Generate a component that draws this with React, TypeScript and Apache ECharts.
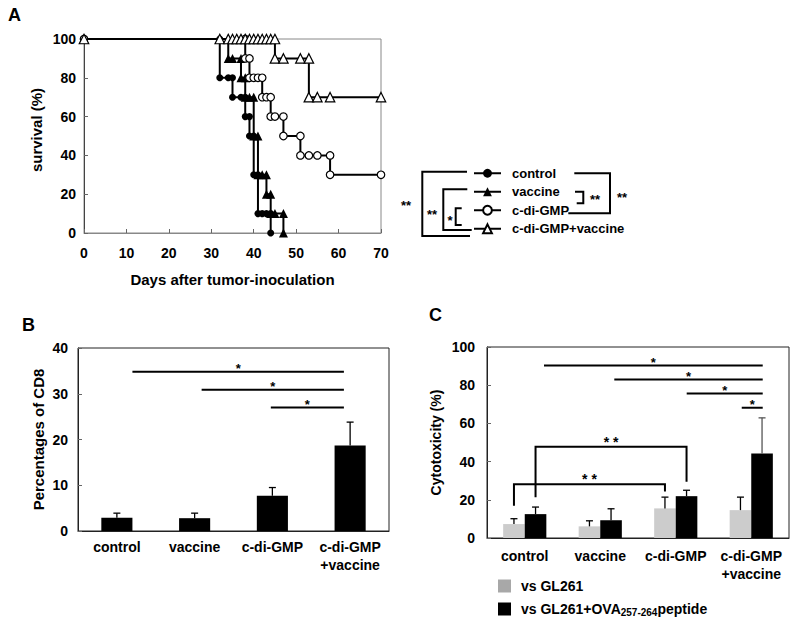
import { useEffect, useRef } from "react";
import * as echarts from "echarts";

const FONT = "'Liberation Sans', Arial, Helvetica, sans-serif";

// ---------- Panel A : survival ----------
const groups = ["control", "vaccine", "c-di-GMP", "c-di-GMP+vaccine"];
const controlSurvival = [[0,100],[32,100],[32,80],[34,80],[35,80],[35,70],[37,70],[38,70],[38,60],[39,60],[39,50],[40,50],[40,30],[41,30],[41,10],[42,10],[43,10],[44,10],[44,0]];
const vaccineSurvival = [[0,100],[34,100],[34,90],[35,90],[37,90],[37,80],[38,80],[38,70],[39,70],[40,70],[40,50],[41,50],[41,30],[42,30],[43,30],[43,20],[44,20],[44,10],[45,10],[47,10],[47,0]];
const cdgSurvival = [[0,100],[38,100],[38,90],[39,90],[39,80],[40,80],[41,80],[42,80],[42,70],[43,70],[44,70],[44,60],[45,60],[47,60],[47,50],[51,50],[51,40],[53,40],[55,40],[58,40],[58,30],[70,30]];
const cdgVacSurvival = [[0,100],[32,100],[34,100],[35,100],[36,100],[37,100],[38,100],[39,100],[40,100],[41,100],[42,100],[43,100],[44,100],[45,100],[45,90],[47,90],[51,90],[53,90],[53,70],[55,70],[58,70],[70,70]];

// ---------- Panel B : % CD8 ----------
const barCategories = ["control", "vaccine", "c-di-GMP", "c-di-GMP\n+vaccine"];
const cd8Mean = [2.9, 2.8, 7.7, 18.7];
const cd8Err = [1.0, 1.1, 1.8, 5.1];
const cd8SigFrom = [0.2, 1.09, 1.98];
const cd8SigTo = [2.92, 2.92, 2.92];
const cd8SigY = [34.8, 30.9, 27.0];
const cd8SigText = ["*", "*", "*"];

// ---------- Panel C : cytotoxicity ----------
const gl261Name = "vs GL261";
const ovaName = "vs GL261+OVA257-264peptide";
const gl261Mean = [7.3, 6.1, 15.5, 14.6];
const gl261Err = [2.8, 2.9, 5.9, 6.8];
const ovaMean = [12.5, 9.3, 21.9, 44.3];
const ovaErr = [3.7, 6.0, 3.1, 18.6];
const ctxSigFrom = [0.255, 1.186, 2.145, 2.874];
const ctxSigTo = [3.152, 3.152, 3.152, 3.152];
const ctxSigY = [90.3, 83.0, 75.7, 68.2];
const ctxSigText = ["*", "*", "*", "*"];
const BAR_FRAC = 0.286;
const HALF = BAR_FRAC / 2;
const ctxBracketFrom = [HALF, -HALF];
const ctxBracketTo = [2 + HALF, 2 - HALF];
const ctxBracketTop = [47.8, 28.2];
const ctxBracketLeftEnd = [21.4, 16.9];
const ctxBracketRightEnd = [29.5, 24.3];
const ctxBracketText = ["* *", "* *"];

const bold = (size: number) => ({ fontSize: size, fontWeight: "bold" as const, fontFamily: FONT, color: "#000" });

function errRender(color: string) {
  return (params: any, api: any) => {
    const x = api.value(0), y = api.value(1), e = api.value(2);
    const c = api.value(3) === 1 ? "#000" : color;
    const p0 = api.coord([x, y]);
    const p1 = api.coord([x, y + e]);
    return {
      type: "group",
      children: [
        { type: "line", shape: { x1: p0[0], y1: p0[1], x2: p1[0], y2: p1[1] }, style: { stroke: c, lineWidth: 1.3 } },
        { type: "line", shape: { x1: p1[0] - 3.5, y1: p1[1], x2: p1[0] + 3.5, y2: p1[1] }, style: { stroke: c, lineWidth: 1.3 } },
      ],
    };
  };
}

function sigRender(labels: string[]) {
  return (params: any, api: any) => {
    const a = api.coord([api.value(0), api.value(2)]);
    const b = api.coord([api.value(1), api.value(2)]);
    return {
      type: "group",
      children: [
        { type: "line", shape: { x1: a[0], y1: a[1], x2: b[0], y2: b[1] }, style: { stroke: "#000", lineWidth: 2 } },
        {
          type: "text",
          style: {
            text: labels[params.dataIndex], x: (a[0] + b[0]) / 2, y: a[1] - 3,
            align: "center", verticalAlign: "middle", fontSize: 13, fontWeight: "bold", fontFamily: FONT, fill: "#000",
          },
        },
      ],
    };
  };
}

function bracketRender(labels: string[]) {
  return (params: any, api: any) => {
    const x1 = api.value(0), x2 = api.value(1), top = api.value(2), l = api.value(3), r = api.value(4);
    const p1 = api.coord([x1, l]);
    const p2 = api.coord([x1, top]);
    const p3 = api.coord([x2, top]);
    const p4 = api.coord([x2, r]);
    return {
      type: "group",
      children: [
        { type: "polyline", shape: { points: [p1, p2, p3, p4] }, style: { stroke: "#000", lineWidth: 2, fill: "none" } },
        {
          type: "text",
          style: {
            text: labels[params.dataIndex], x: (p2[0] + p3[0]) / 2, y: p2[1] - 5,
            align: "center", verticalAlign: "middle", fontSize: 14, fontWeight: "bold", fontFamily: FONT, fill: "#000",
          },
        },
      ],
    };
  };
}

function survivalSeries(name: string, data: number[][], symbol: string, size: number, open: boolean) {
  return {
    type: "line",
    name,
    xAxisIndex: 0,
    yAxisIndex: 0,
    data,
    symbol,
    symbolSize: size,
    showAllSymbol: true,
    lineStyle: { color: "#000", width: 2 },
    itemStyle: open ? { color: "#fff", borderColor: "#000", borderWidth: 1.2 } : { color: "#000" },
    z: 3,
  };
}

function buildOption() {
  const bracketStyle = { stroke: "#000", lineWidth: 2, fill: "none" };
  const starStyle = (text: string, x: number, y: number) => ({
    type: "text",
    style: { text, x, y, align: "center", verticalAlign: "middle", fontSize: 13, fontWeight: "bold", fontFamily: FONT, fill: "#000" },
  });
  return {
    animation: false,
    backgroundColor: "#fff",
    textStyle: { fontFamily: FONT },
    title: [
      { text: "A", left: 8, top: 6, padding: 0, textStyle: bold(18) },
      { text: "B", left: 22, top: 316, padding: 0, textStyle: bold(18) },
      { text: "C", left: 429, top: 306, padding: 0, textStyle: bold(18) },
    ],
    grid: [
      { left: 84, top: 39, width: 297, height: 194, show: true, borderColor: "#888", borderWidth: 1 },
      { left: 78, top: 348, width: 311, height: 183, show: true, borderColor: "#222", borderWidth: 1 },
      { left: 487, top: 347, width: 302, height: 191, show: true, borderColor: "#222", borderWidth: 1 },
    ],
    xAxis: [
      {
        gridIndex: 0, type: "value", min: 0, max: 70, interval: 10,
        axisLine: { lineStyle: { color: "#888" } },
        axisTick: { inside: true, length: 4, lineStyle: { color: "#666" } },
        splitLine: { show: false },
        axisLabel: { ...bold(14), margin: 13 },
        name: "Days after tumor-inoculation", nameLocation: "middle", nameGap: 39,
        nameTextStyle: bold(15),
      },
      {
        gridIndex: 1, type: "category", data: barCategories,
        axisLine: { lineStyle: { color: "#222" } },
        axisTick: { show: false },
        axisLabel: { ...bold(14), lineHeight: 18, margin: 7, interval: 0 },
      },
      { gridIndex: 1, type: "value", min: -0.5, max: 3.5, show: false },
      {
        gridIndex: 2, type: "category", data: barCategories,
        axisLine: { lineStyle: { color: "#222" } },
        axisTick: { show: false },
        axisLabel: { ...bold(14), lineHeight: 18, margin: 9, interval: 0 },
      },
      { gridIndex: 2, type: "value", min: -0.5, max: 3.5, show: false },
    ],
    yAxis: [
      {
        gridIndex: 0, type: "value", min: 0, max: 100, interval: 20,
        axisLine: { show: true, onZero: false, lineStyle: { color: "#444" } },
        axisTick: { show: true, inside: true, length: 4, lineStyle: { color: "#666" } },
        splitLine: { show: false },
        axisLabel: { ...bold(14), margin: 8 },
        name: "survival (%)", nameLocation: "middle", nameGap: 40,
        nameTextStyle: { ...bold(15), padding: [0, 0, 0, 12] },
      },
      {
        gridIndex: 1, type: "value", min: 0, max: 40, interval: 10,
        axisLine: { show: true, onZero: false, lineStyle: { color: "#222" } },
        axisTick: { show: true, inside: true, length: 4, lineStyle: { color: "#666" } },
        splitLine: { show: false },
        axisLabel: { ...bold(14), margin: 10 },
        name: "Percentages of CD8", nameLocation: "middle", nameGap: 32,
        nameTextStyle: bold(15),
      },
      {
        gridIndex: 2, type: "value", min: 0, max: 100, interval: 20,
        axisLine: { show: true, onZero: false, lineStyle: { color: "#222" } },
        axisTick: { show: true, inside: true, length: 4, lineStyle: { color: "#666" } },
        splitLine: { show: false },
        axisLabel: { ...bold(14), margin: 12 },
        name: "Cytotoxicity (%)", nameLocation: "middle", nameGap: 44,
        nameTextStyle: bold(14),
      },
    ],
    legend: [
      {
        data: groups, orient: "vertical", left: 473, top: 164, padding: 0,
        itemWidth: 27, itemHeight: 11, itemGap: 0,
        textStyle: { ...bold(13), lineHeight: 18.5, padding: [0, 0, 0, 6] },
      },
      {
        data: [{ name: gl261Name, itemStyle: { color: "#a8a8a8" } }, { name: ovaName }],
        orient: "vertical", left: 498, top: 578, padding: 0,
        itemWidth: 13, itemHeight: 13, itemGap: 7, icon: "rect",
        formatter: (name: string) => (name === ovaName ? "vs GL261+OVA{sub|257-264}peptide" : name),
        textStyle: {
          ...bold(14), lineHeight: 16, padding: [0, 0, 0, 5],
          rich: { sub: { fontSize: 10, fontWeight: "bold", fontFamily: FONT, color: "#000", verticalAlign: "bottom", lineHeight: 16 } },
        },
      },
    ],
    graphic: [
      { type: "polyline", shape: { points: [[467, 171.7], [422.3, 171.7], [422.3, 236], [470, 236]] }, style: bracketStyle },
      { type: "polyline", shape: { points: [[467.3, 189.3], [443.3, 189.3], [443.3, 230], [471.7, 230]] }, style: bracketStyle },
      { type: "polyline", shape: { points: [[461.7, 208.3], [455.7, 208.3], [455.7, 225], [461.7, 225]] }, style: bracketStyle },
      { type: "polyline", shape: { points: [[574.3, 173.3], [610, 173.3], [610, 213.3], [568.3, 213.3]] }, style: bracketStyle },
      { type: "polyline", shape: { points: [[575, 191.7], [583.3, 191.7], [583.3, 203.3], [576.7, 203.3]] }, style: bracketStyle },
      starStyle("**", 406, 205),
      starStyle("**", 432, 214),
      starStyle("*", 450, 220),
      starStyle("**", 595, 199),
      starStyle("**", 622, 197),
    ],
    series: [
      survivalSeries("control", controlSurvival, "circle", 7, false),
      survivalSeries("vaccine", vaccineSurvival, "triangle", 9, false),
      survivalSeries("c-di-GMP", cdgSurvival, "circle", 7.5, true),
      survivalSeries("c-di-GMP+vaccine", cdgVacSurvival, "triangle", 9.5, true),
      {
        type: "bar", name: "CD8", xAxisIndex: 1, yAxisIndex: 1, data: cd8Mean,
        barWidth: "40%", itemStyle: { color: "#000" },
      },
      {
        type: "custom", xAxisIndex: 2, yAxisIndex: 1, z: 4,
        data: cd8Mean.map((m, i) => [i, m, cd8Err[i], 1]),
        renderItem: errRender("#000"),
      },
      {
        type: "custom", xAxisIndex: 2, yAxisIndex: 1, z: 4,
        data: cd8SigFrom.map((f, i) => [f, cd8SigTo[i], cd8SigY[i]]),
        renderItem: sigRender(cd8SigText),
      },
      {
        type: "bar", name: gl261Name, xAxisIndex: 3, yAxisIndex: 2, data: gl261Mean,
        barWidth: (BAR_FRAC * 100).toFixed(1) + "%", barGap: "0%", itemStyle: { color: "#cccccc" },
      },
      {
        type: "bar", name: ovaName, xAxisIndex: 3, yAxisIndex: 2, data: ovaMean,
        barWidth: (BAR_FRAC * 100).toFixed(1) + "%", barGap: "0%", itemStyle: { color: "#000" },
      },
      {
        type: "custom", xAxisIndex: 4, yAxisIndex: 2, z: 4,
        data: [
          ...gl261Mean.map((m, i) => [i - HALF, m, gl261Err[i], 1]),
          ...ovaMean.map((m, i) => [i + HALF, m, ovaErr[i], i === 3 ? 0 : 1]),
        ],
        renderItem: errRender("#555"),
      },
      {
        type: "custom", xAxisIndex: 4, yAxisIndex: 2, z: 4,
        data: ctxSigFrom.map((f, i) => [f, ctxSigTo[i], ctxSigY[i]]),
        renderItem: sigRender(ctxSigText),
      },
      {
        type: "custom", xAxisIndex: 4, yAxisIndex: 2, z: 4,
        data: ctxBracketFrom.map((f, i) => [f, ctxBracketTo[i], ctxBracketTop[i], ctxBracketLeftEnd[i], ctxBracketRightEnd[i]]),
        renderItem: bracketRender(ctxBracketText),
      },
    ],
  };
}

export default function App() {
  const ref = useRef<HTMLDivElement>(null);
  useEffect(() => {
    if (!ref.current) return;
    const chart = echarts.init(ref.current, undefined, { renderer: "svg" });
    chart.setOption(buildOption() as any);
    return () => chart.dispose();
  }, []);
  return (
    <div
      ref={ref}
      style={{ position: "fixed", left: 0, top: 0, width: 800, height: 624, background: "#fff" }}
    />
  );
}
